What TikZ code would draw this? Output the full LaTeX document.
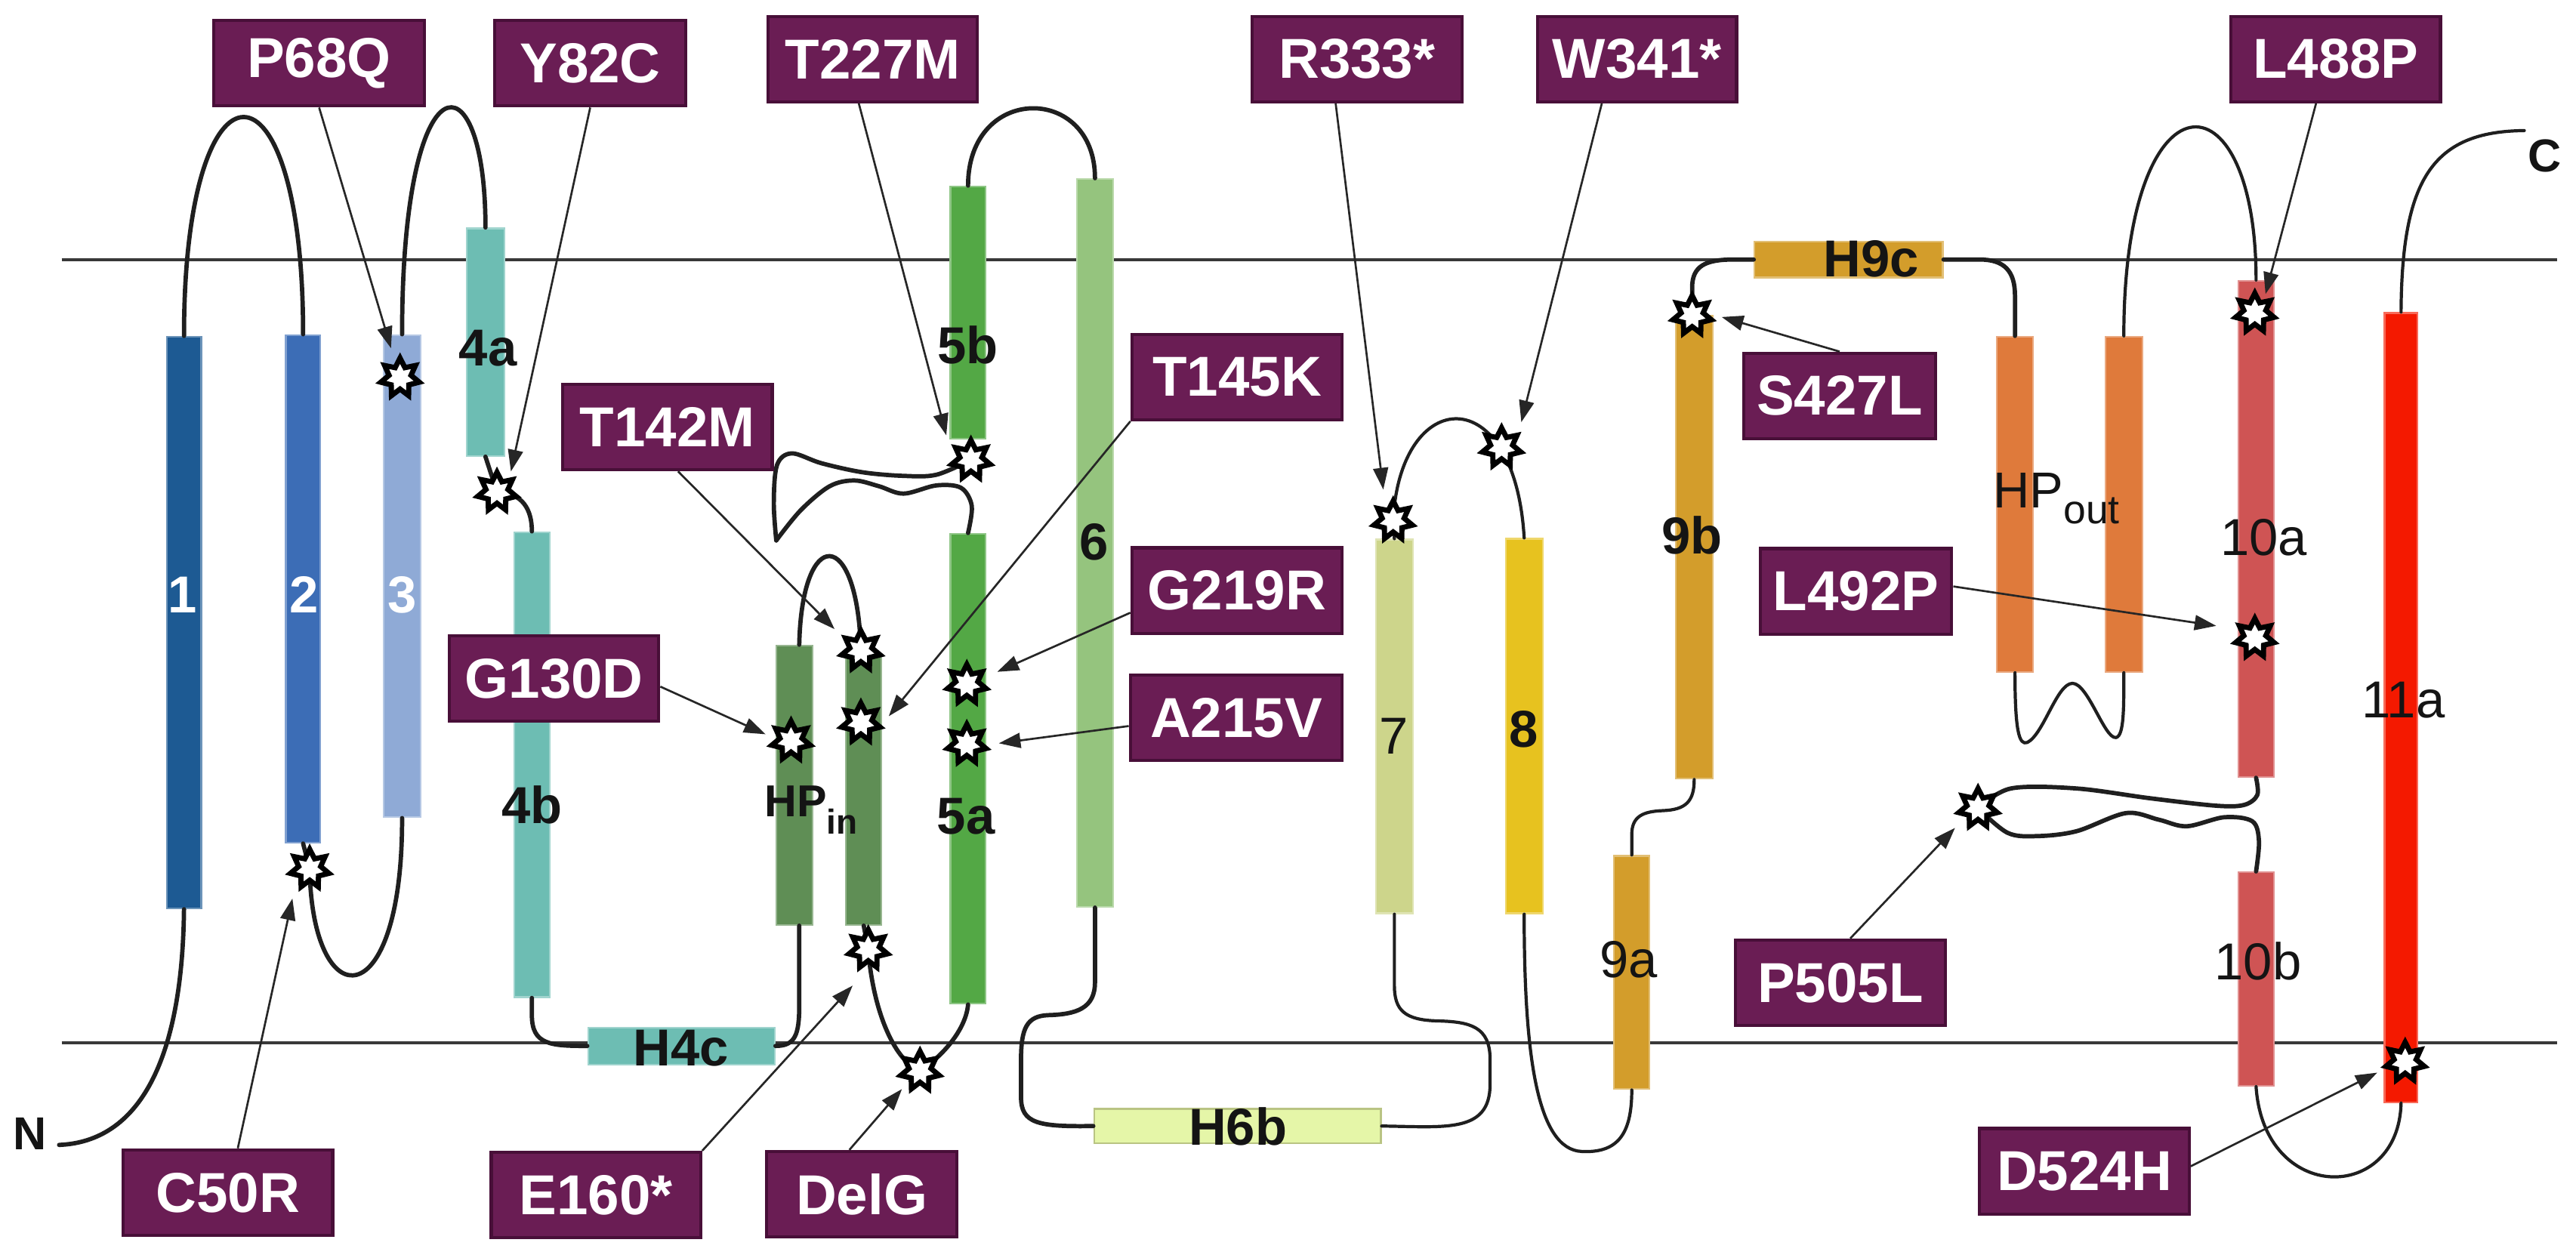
\documentclass[tikz,border=0pt]{standalone}
\usepackage{fontspec}
\setmainfont{Liberation Sans}
\usetikzlibrary{shapes.geometric,arrows.meta,calc}
\newlength\myu
\setlength\myu{0.2mm}
\definecolor{cA}{HTML}{1D5A93}
\definecolor{cB}{HTML}{3C6DB6}
\definecolor{cC}{HTML}{8FAAD6}
\definecolor{cD}{HTML}{6DBDB3}
\definecolor{cHP}{HTML}{5F8E55}
\definecolor{cE}{HTML}{53A845}
\definecolor{cF}{HTML}{95C47E}
\definecolor{cG}{HTML}{CDD58B}
\definecolor{cH}{HTML}{E7C21F}
\definecolor{cHsix}{HTML}{E5F6A8}
\definecolor{cI}{HTML}{D39D2B}
\definecolor{cOut}{HTML}{DF7A3B}
\definecolor{cJ}{HTML}{CF5454}
\definecolor{cK}{HTML}{F41900}
\definecolor{mutfill}{HTML}{6A1D54}
\definecolor{mutdraw}{HTML}{480F38}
\definecolor{lblc}{HTML}{141414}
\newcommand\hlx[6]{\node[hx, fill=#2, draw=#2!65!white, minimum width=#5\myu, minimum height=#6\myu] (#1) at (#3,#4) {};}
\begin{document}
\begin{tikzpicture}[x=0.2mm, y=-0.2mm,
  hx/.style={rectangle, inner sep=0pt, line width=0.6pt},
  mut/.style={rectangle, fill=mutfill, draw=mutdraw, line width=1.1pt, text=white,
    font=\fontsize{19.5}{20}\selectfont\bfseries, inner sep=0pt, minimum height=52\myu},
  lbl/.style={font=\fontsize{18}{18}\selectfont\bfseries, text=lblc, inner sep=0pt},
  lblr/.style={font=\fontsize{18}{18}\selectfont, text=lblc, inner sep=0pt},
  lblw/.style={font=\fontsize{18}{18}\selectfont\bfseries, text=white, inner sep=0pt},
  thickloop/.style={line width=1.5pt, draw=black!88, line cap=round, line join=round},
  thinloop/.style={line width=1.1pt, draw=black!88, line cap=round, line join=round},
  mem/.style={line width=1.1pt, draw=black!78},
  arr/.style={line width=0.7pt, draw=black!85, -{Triangle[length=7.5pt,width=5.2pt]}},
  mstar/.style={star, star points=7, star point ratio=1.75, minimum size=24\myu,
    inner sep=0pt, fill=white, draw=black, line width=1.8pt, line join=miter}]
\useasboundingbox (0,0) rectangle (1568,765.4);
\fill[white] (0,0) rectangle (1568,765.4);

% membrane
\coordinate (mtl) at (37.5,158);
\coordinate (mtr) at (1556.5,158);
\coordinate (mbl) at (37.5,635);
\coordinate (mbr) at (1556.5,635);
\draw[mem] (mtl) -- (mtr);
\draw[mem] (mbl) -- (mbr);

% helices
\hlx{h1}{cA}{112}{379}{21}{348}
\hlx{h2}{cB}{184.5}{358.5}{21}{309}
\hlx{h3}{cC}{244.75}{350.75}{22.5}{293.5}
\hlx{h4a}{cD}{295.5}{208.25}{23}{138.5}
\hlx{h4b}{cD}{323.75}{465.5}{21.5}{283}
\hlx{H4c}{cD}{414.75}{636.75}{113.5}{22.5}
\hlx{hpL}{cHP}{483.5}{478}{22}{170}
\hlx{hpR}{cHP}{525.75}{481.5}{21.5}{163}
\hlx{h5b}{cE}{589.25}{190.25}{21.5}{153.5}
\hlx{h5a}{cE}{589.25}{468}{21.5}{286}
\hlx{h6}{cF}{666.5}{330.5}{22}{443}
\node[hx, fill=cHsix, draw=cHsix!75!black!60!cG, minimum width=174.5\myu, minimum height=21\myu] (H6b) at (753.25,685.5) {};
\hlx{h7}{cG}{848.75}{442.25}{22.5}{227.5}
\hlx{h8}{cH}{927.75}{442}{22.5}{228}
\hlx{h9a}{cI}{993.25}{592}{21.5}{142}
\hlx{h9b}{cI}{1031.25}{333}{22.5}{282}
\hlx{H9c}{cI}{1125.25}{158}{114.5}{22}
\hlx{hoL}{cOut}{1226.5}{307}{22}{204}
\hlx{hoR}{cOut}{1292.75}{307}{22.5}{204}
\hlx{h10a}{cJ}{1373.25}{322}{21.5}{302}
\hlx{h10b}{cJ}{1373.25}{596}{21.5}{130}
\hlx{h11a}{cK}{1461.5}{430.75}{20}{480.5}

% star positions
\path (243.5,230) coordinate (pP68Q) (302.5,299.5) coordinate (pY82C)
      (188.5,529) coordinate (pC50R) (481.5,451) coordinate (pG130D)
      (524,396) coordinate (pT142M) (524,440) coordinate (pT145K)
      (528.5,578) coordinate (pE160) (560,652) coordinate (pDelG)
      (588.5,416.5) coordinate (pG219R) (588.5,453) coordinate (pA215V)
      (591,280) coordinate (pT227M) (848,317) coordinate (pR333)
      (914,272.5) coordinate (pW341) (1030,192) coordinate (pS427L)
      (1372.5,190.5) coordinate (pL488P) (1372.5,388.5) coordinate (pL492P)
      (1204,492) coordinate (pP505L) (1464,646.5) coordinate (pD524H);
\coordinate (nEnd) at (36,697);
\coordinate (cEnd) at (1536.5,79.5);
\coordinate (wtip) at (472.5,329);

% loops
\draw[thickloop] (h1.south) .. controls (111,645) and (85,695) .. (nEnd);
\draw[thickloop] (h1.north) .. controls (112,27) and (184.5,27) .. (h2.north);
\draw[thickloop] (h2.south) -- (pC50R) .. controls (190,620) and (245,620) .. (h3.south);
\draw[thickloop] (h3.north) .. controls (244.75,32) and (295.5,32) .. (h4a.north);
\draw[thickloop] (h4a.south) -- (pY82C) .. controls (318,300) and (323.75,310) .. (h4b.north);
\draw[thickloop] (h4b.south) -- (323.75,618) .. controls (323.75,636) and (335,636.75) .. (H4c.west);
\draw[thickloop] (H4c.east) .. controls (484,636.75) and (486.5,630) .. (486.5,612) -- ([xshift=3\myu]hpL.south);
\draw[thickloop] ([xshift=3\myu]hpL.north) .. controls (488,320) and (522,320) .. (pT142M);
\draw[thickloop] (hpR.south) -- (pE160) .. controls (531,612) and (543,645) .. (pDelG) .. controls (575,642) and (588,626) .. (h5a.south);
\draw[thickloop] plot[smooth, tension=0.55] coordinates {(h5a.north) (591.5,308) (585,297) (570,295.5) (550,300.5) (535,296) (520,292.5) (505,296) (487.5,310.5) (wtip)};
\draw[thickloop] plot[smooth, tension=0.55] coordinates {(wtip) (471,306) (473,283) (482,276) (500,282) (525,287.5) (550,289.7) (570,289) (pT227M)};
\draw[thickloop] (h5b.north) .. controls (589.25,51) and (666.5,51) .. (h6.north);
\draw[thickloop] (h6.south) -- (666.5,598) .. controls (666.5,614) and (655,617.5) .. (638,618) .. controls (625,618.5) and (621.5,626) .. (621.5,645) -- (621.5,668) .. controls (621.5,684) and (632,686) .. (H6b.west);
\draw[thinloop] (H6b.east) .. controls (880,686) and (907,690) .. (907,660) -- (907,645) .. controls (907,625) and (895,622) .. (875,621.5) .. controls (855,621) and (848.75,615) .. (848.75,600) -- (h7.south);
\draw[thinloop] (h7.north) -- (pR333) .. controls (852,235) and (922,230) .. (h8.north);
\draw[thinloop] (h8.south) .. controls (927.75,640) and (935,700) .. (963,701) .. controls (985,702) and (993.25,690) .. (h9a.south);
\draw[thinloop] (h9a.north) -- (993.25,508) .. controls (993.25,497) and (1000,494) .. (1012,493.5) .. controls (1026,493) and (1031.25,488) .. (h9b.south);
\draw[thickloop] (pS427L) -- (1030,175) .. controls (1030,162) and (1038,158) .. (1055,158) -- (H9c.west);
\draw[thickloop] (H9c.east) -- (1205,158) .. controls (1220,158) and (1226.5,165) .. (1226.5,180) -- (hoL.north);
\draw[thinloop] (hoL.south) .. controls (1226.5,445) and (1229,454) .. (1234,452) .. controls (1244,447) and (1252,416) .. (1261.5,416) .. controls (1271,416) and (1281,450) .. (1288,449) .. controls (1293,448) and (1292.75,430) .. (hoR.south);
\draw[thinloop] (hoR.north) .. controls (1292.75,41) and (1373.25,41) .. (h10a.north);
\draw[thickloop] plot[smooth, tension=0.55] coordinates {(h10a.south) (1374,484) (1366,490) (1349,490.5) (1309,486) (1264,480) (1224,480) (pP505L)};
\draw[thickloop] plot[smooth, tension=0.55] coordinates {(pP505L) (1222,507) (1240,509) (1264,506) (1294,495) (1314,499) (1331,503) (1354,497.5) (1371,500) (1375,512) (h10b.north)};
\draw[thinloop] (h10b.south) .. controls (1378,733) and (1460,733) .. (h11a.south);
\draw[thinloop] (h11a.north) .. controls (1462,110) and (1480,80) .. (cEnd);

% labels on helices
\node[lblw] (l1) at (111,362) {1};
\node[lblw] (l2) at (185,362) {2};
\node[lblw] (l3) at (245,362) {3};
\node[lbl] (l4a) at (297,212) {4a};
\node[lbl] (l4b) at (324,490) {4b};
\node[lbl] (lH4c) at (414.5,638) {H4c};
\node[lbl, font=\fontsize{15.5}{15.5}\selectfont\bfseries, anchor=base west] (lhpin) at (465,497) {HP\raisebox{-6pt}{\fontsize{12}{12}\selectfont in}};
\node[lbl] (l5b) at (589,210) {5b};
\node[lbl] (l5a) at (588,497) {5a};
\node[lbl] (l6) at (666,330) {6};
\node[lbl] (lH6b) at (753.5,686) {H6b};
\node[lblr] (l7) at (848.5,448) {7};
\node[lbl] (l8) at (927.5,444) {8};
\node[lbl] (l9b) at (1030,326) {9b};
\node[lblr] (l9a) at (991.5,584) {9a};
\node[lbl] (lH9c) at (1139,157.5) {H9c};
\node[lblr, font=\fontsize{17.5}{17.5}\selectfont, anchor=base west] (lhpout) at (1213,309) {HP\raisebox{-5.5pt}{\fontsize{14}{14}\selectfont out}};
\node[lblr] (l10a) at (1378,327) {10a};
\node[lblr] (l10b) at (1374.5,585) {10b};
\node[lblr] (l11a) at (1463,426) {11a};
\node[lbl, font=\fontsize{16}{16}\selectfont\bfseries] (lN) at (18,690) {N};
\node[lbl, font=\fontsize{16}{16}\selectfont\bfseries] (lC) at (1549,95) {C};

% mutation boxes
\node[mut, minimum width=128.5\myu] (bP68Q) at (194.25,38.5) {P68Q};
\node[mut, minimum width=116.5\myu] (bY82C) at (359.25,38.5) {Y82C};
\node[mut, minimum width=127.5\myu] (bT227M) at (531.25,36) {T227M};
\node[mut, minimum width=128\myu] (bR333) at (826,36) {R333*};
\node[mut, minimum width=121\myu] (bW341) at (996.5,36) {W341*};
\node[mut, minimum width=127.5\myu] (bL488P) at (1421.75,36) {L488P};
\node[mut, minimum width=127.5\myu] (bT142M) at (406.25,260) {T142M};
\node[mut, minimum width=128\myu] (bT145K) at (753,229.5) {T145K};
\node[mut, minimum width=128\myu] (bG219R) at (753,359.5) {G219R};
\node[mut, minimum width=129\myu] (bA215V) at (752.5,437) {A215V};
\node[mut, minimum width=127.5\myu] (bG130D) at (337.25,413) {G130D};
\node[mut, minimum width=127.5\myu] (bC50R) at (138.75,726) {C50R};
\node[mut, minimum width=127.5\myu] (bE160) at (362.75,727.5) {E160*};
\node[mut, minimum width=116\myu] (bDelG) at (524.5,727) {DelG};
\node[mut, minimum width=116.5\myu] (bS427L) at (1119.75,241) {S427L};
\node[mut, minimum width=116.5\myu] (bL492P) at (1129.75,360) {L492P};
\node[mut, minimum width=127.5\myu] (bP505L) at (1120.25,598.25) {P505L};
\node[mut, minimum width=127.5\myu] (bD524H) at (1268.75,713) {D524H};

% arrow tips
\coordinate (tP68Q) at (238,212);
\coordinate (tY82C) at (311,287);
\coordinate (tT227M) at (576,265);
\coordinate (tR333) at (842,298);
\coordinate (tW341) at (926,257);
\coordinate (tL488P) at (1379,179);
\coordinate (tT142M) at (508,383);
\coordinate (tT145K) at (541,436);
\coordinate (tG219R) at (607,409);
\coordinate (tA215V) at (608,452.5);
\coordinate (tG130D) at (466,447);
\coordinate (tC50R) at (178,547);
\coordinate (tE160) at (519,600);
\coordinate (tDelG) at (549,663);
\coordinate (tS427L) at (1048,193);
\coordinate (tL492P) at (1349,381);
\coordinate (tP505L) at (1190,504);
\coordinate (tD524H) at (1447,653);

% arrows
\draw[arr] (bP68Q.south) -- (tP68Q);
\draw[arr] (bY82C.south) -- (tY82C);
\draw[arr] ([xshift=-8.5\myu]bT227M.south) -- (tT227M);
\draw[arr] ([xshift=-13\myu]bR333.south) -- (tR333);
\draw[arr] ([xshift=-21.5\myu]bW341.south) -- (tW341);
\draw[arr] ([xshift=-12\myu]bL488P.south) -- (tL488P);
\draw[arr] ([xshift=6.5\myu]bT142M.south) -- (tT142M);
\draw[arr] (bT145K.south west) -- (tT145K);
\draw[arr] ([yshift=-13.5\myu]bG219R.west) -- (tG219R);
\draw[arr] ([yshift=-5\myu]bA215V.west) -- (tA215V);
\draw[arr] ([yshift=-5\myu]bG130D.east) -- (tG130D);
\draw[arr] ([xshift=6\myu]bC50R.north) -- (tC50R);
\draw[arr] (bE160.north east) -- (tE160);
\draw[arr] ([xshift=-7.5\myu]bDelG.north) -- (tDelG);
\draw[arr] (bS427L.north) -- (tS427L);
\draw[arr] ([yshift=3\myu]bL492P.east) -- (tL492P);
\draw[arr] ([xshift=6\myu]bP505L.north) -- (tP505L);
\draw[arr] ([yshift=3\myu]bD524H.east) -- (tD524H);

% stars
\foreach \s in {P68Q,Y82C,C50R,G130D,T142M,T145K,E160,DelG,G219R,A215V,T227M,R333,W341,S427L,L488P,L492P,P505L,D524H}
  \node[mstar] (s\s) at (p\s) {};
\end{tikzpicture}
\end{document}
